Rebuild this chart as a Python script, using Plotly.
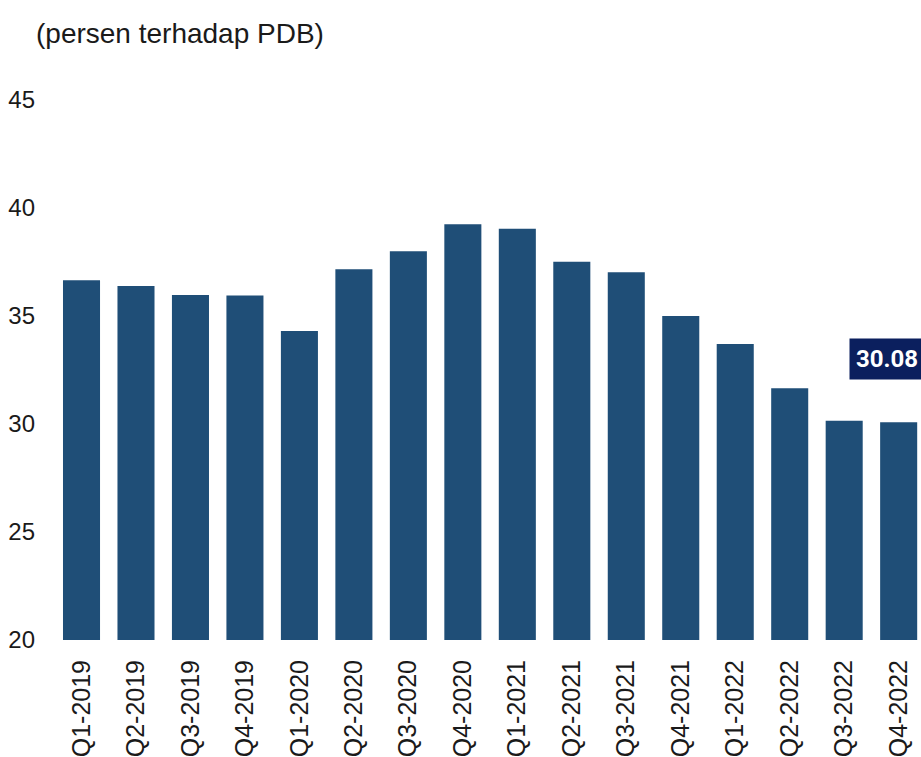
import plotly.graph_objects as go

# Ratio of government debt to GDP, quarterly
quarters = [
    "Q1-2019", "Q2-2019", "Q3-2019", "Q4-2019",
    "Q1-2020", "Q2-2020", "Q3-2020", "Q4-2020",
    "Q1-2021", "Q2-2021", "Q3-2021", "Q4-2021",
    "Q1-2022", "Q2-2022", "Q3-2022", "Q4-2022",
]
ratio_pct = [
    36.65, 36.39, 35.97, 35.95,
    34.30, 37.17, 38.00, 39.25,
    39.04, 37.51, 37.02, 35.00,
    33.70, 31.66, 30.15, 30.08,
]
y_ticks = [20, 25, 30, 35, 40, 45]

BAR_COLOR = "#1f4e77"
LABEL_BG = "#0b1f5e"
TEXT_COLOR = "#1a1a1a"

fig = go.Figure(
    go.Bar(
        x=quarters,
        y=ratio_pct,
        marker=dict(color=BAR_COLOR, line=dict(width=0)),
        width=0.68,
        hoverinfo="x+y",
    )
)

# value tag for the latest quarter
fig.add_annotation(
    x=quarters[-1],
    y=ratio_pct[-1],
    text=f"<b>{ratio_pct[-1]:.2f}</b>",
    showarrow=False,
    yanchor="bottom",
    xanchor="center",
    yshift=42,
    xshift=-12,
    bgcolor=LABEL_BG,
    borderpad=6,
    font=dict(family="Roboto", size=24, color="white"),
)

fig.update_layout(
    width=921,
    height=757,
    margin=dict(l=40, r=0, t=100, b=115),
    paper_bgcolor="white",
    plot_bgcolor="white",
    showlegend=False,
    bargap=0.32,
    title=dict(
        text="(persen terhadap PDB)",
        xref="container",
        yref="container",
        x=36 / 921,
        xanchor="left",
        y=1 - 33 / 757,
        yanchor="middle",
        font=dict(family="Liberation Sans, Arial", size=28, color=TEXT_COLOR),
    ),
    xaxis=dict(
        type="category",
        range=[-0.762, 15.41],
        tickangle=-90,
        showgrid=False,
        showline=False,
        zeroline=False,
        ticks="",
        ticklabelstandoff=14,
        tickfont=dict(family="Liberation Sans, Arial", size=25, color=TEXT_COLOR),
    ),
    yaxis=dict(
        range=[20, 45],
        tickvals=y_ticks,
        ticktext=[str(v) for v in y_ticks],
        showgrid=False,
        showline=False,
        zeroline=False,
        ticks="",
        ticklabelstandoff=4,
        tickfont=dict(family="Liberation Sans, Arial", size=24, color=TEXT_COLOR),
    ),
)

fig.write_html("out.html")
